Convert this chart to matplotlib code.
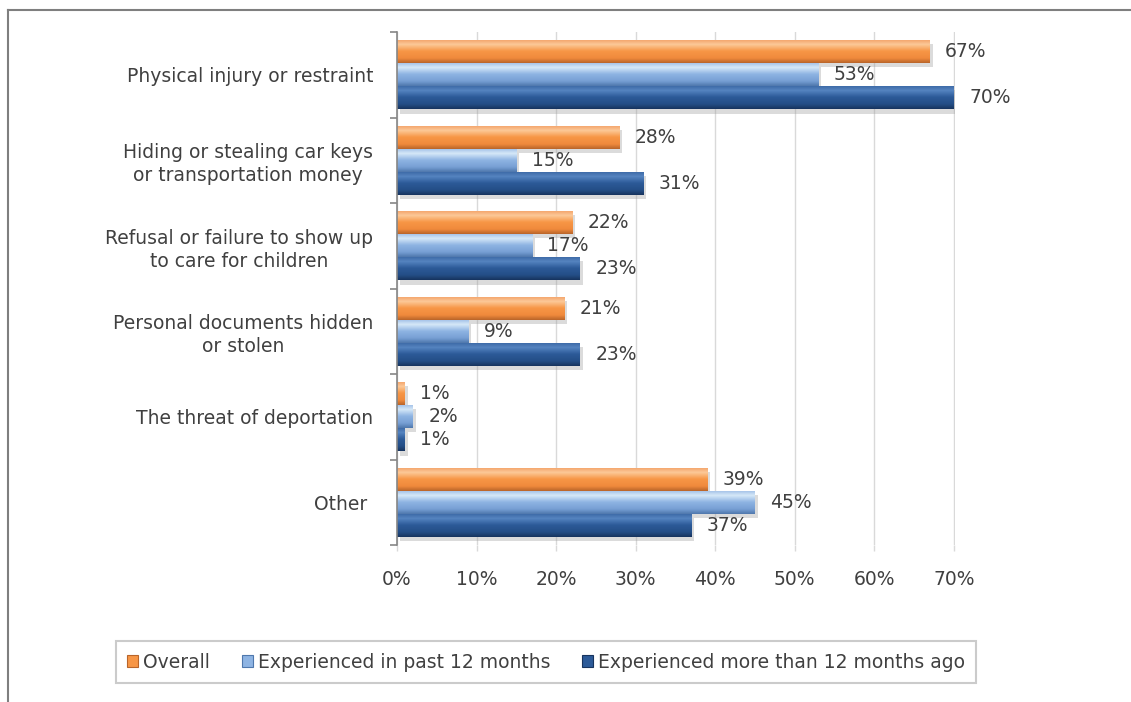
import matplotlib
matplotlib.use("Agg")
import numpy as np
import matplotlib.pyplot as plt
from matplotlib.colors import LinearSegmentedColormap
from matplotlib.lines import Line2D
from matplotlib.patches import Rectangle
import matplotlib.patheffects as pe

plt.rcParams.update({"font.family": "DejaVu Sans", "font.size": 13.5})

categories = [
    "Physical injury or restraint",
    "Hiding or stealing car keys\nor transportation money",
    "Refusal or failure to show up\nto care for children",
    "Personal documents hidden\nor stolen",
    "The threat of deportation",
    "Other ",
]
series_names = ["Overall", "Experienced in past 12 months",
                "Experienced more than 12 months ago"]
overall = [67, 28, 22, 21, 1, 39]
past_12 = [53, 15, 17, 9, 2, 45]
more_12 = [70, 31, 23, 23, 1, 37]
x_ticks = [0, 10, 20, 30, 40, 50, 60, 70]

INK = "#404040"
GRID = "#d9d9d9"
SPINE = "#868686"

# (top edge, highlight, body, lower body, bottom edge)
GRADS = [
    ["#f3a066", "#fcc998", "#f79646", "#f08a3c", "#b9652a"],
    ["#9dbde6", "#d6e8f8", "#8eb4e3", "#779fd4", "#4f78ad"],
    ["#3a66a3", "#5584c0", "#2c5a98", "#244e86", "#17345e"],
]
BASE = ["#f79646", "#8eb4e3", "#2c5a98"]

fig = plt.figure(figsize=(11.31, 7.02), dpi=100)
ax = fig.add_axes([0.351, 0.2236, 0.4934, 0.7308])

y = np.arange(len(categories))
h = 0.27
handles = []
for k, (vals, name) in enumerate(zip([overall, past_12, more_12], series_names)):
    bars = ax.barh(y + (k - 1) * h, vals, height=h, color=BASE[k],
                   edgecolor="none", zorder=3,
                   path_effects=[pe.SimplePatchShadow(offset=(2, -3),
                                                      shadow_rgbFace="#9a9a9a",
                                                      alpha=0.35),
                                 pe.Normal()])
    cmap = LinearSegmentedColormap.from_list(
        f"g{k}", list(zip([0, 0.22, 0.5, 0.8, 1.0], GRADS[k])))
    grad = np.linspace(0, 1, 64).reshape(-1, 1)
    for b in bars:
        x0, y0, w, hh = b.get_x(), b.get_y(), b.get_width(), b.get_height()
        im = ax.imshow(grad, extent=[x0, x0 + w, y0 + hh, y0], aspect="auto",
                       cmap=cmap, zorder=3.5, interpolation="bilinear")
        im.set_clip_path(b)
    ax.bar_label(bars, labels=[f"{v}%" for v in vals], padding=11,
                 color=INK, fontsize=13.5, zorder=5)
    handles.append(Rectangle((0, 0), 1, 1, facecolor=BASE[k],
                             edgecolor=GRADS[k][4], lw=0.8))

ax.set_xlim(0, 70.15)
ax.set_ylim(len(categories) - 0.5, -0.5)

ax.set_xticks(x_ticks)
ax.set_xticklabels([f"{t}%" for t in x_ticks], color=INK)
ax.set_yticks(y)
ax.set_yticklabels(categories, color=INK, ha="right", ma="center",
                   linespacing=1.25)
ax.set_yticks(np.arange(len(categories) + 1) - 0.5, minor=True)

ax.tick_params(axis="y", which="major", length=0, pad=17)
ax.tick_params(axis="y", which="minor", length=5, width=1.2, color=SPINE,
               direction="out")
ax.tick_params(axis="x", length=4, width=1, color=GRID, pad=14)

ax.grid(axis="x", color=GRID, lw=1, zorder=0)
ax.set_axisbelow(True)
for s in ["top", "right", "bottom"]:
    ax.spines[s].set_visible(False)
ax.spines["left"].set_color(SPINE)
ax.spines["left"].set_linewidth(1.2)
ax.spines["left"].set_zorder(6)

leg = fig.legend(handles, series_names, loc="center",
                 bbox_to_anchor=(546 / 1131, 1 - 662 / 702), ncol=3,
                 frameon=True, fancybox=False, handlelength=0.6,
                 handleheight=0.6, handletextpad=0.25, columnspacing=1.7,
                 borderpad=0.6, fontsize=13.5, labelcolor=INK)
leg.get_frame().set_edgecolor("#bfbfbf")
leg.get_frame().set_linewidth(1.5)

# outer frame (top and left edges only)
fig.add_artist(Line2D([8 / 1131, 1.0], [1 - 10 / 702, 1 - 10 / 702],
                      color="#7f7f7f", lw=1.5, transform=fig.transFigure))
fig.add_artist(Line2D([8 / 1131, 8 / 1131], [0.0, 1 - 10 / 702],
                      color="#7f7f7f", lw=1.5, transform=fig.transFigure))

fig.savefig("out.png", dpi=100, facecolor="white")
